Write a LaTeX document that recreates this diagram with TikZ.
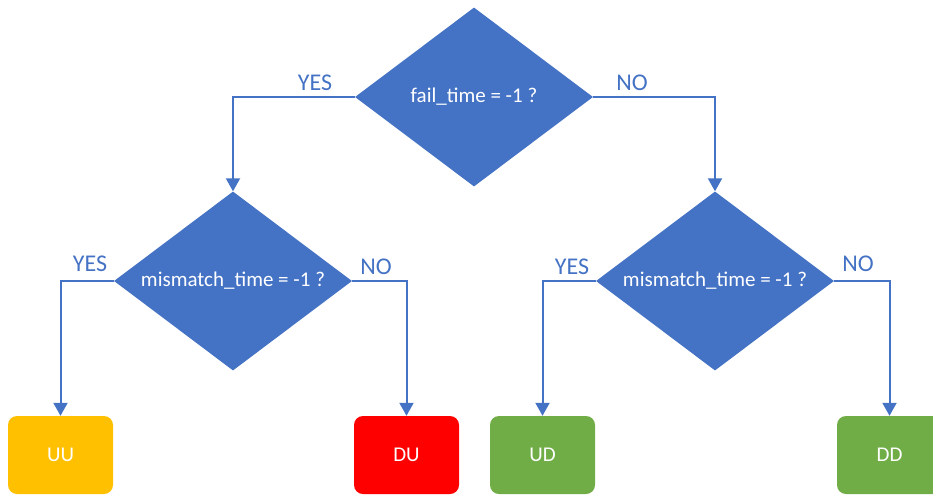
\documentclass[tikz,border=0pt]{standalone}
\usepackage{fontspec}
\setmainfont{Carlito}
\usetikzlibrary{shapes.geometric,arrows.meta}
\definecolor{flowblue}{HTML}{4472C4}
\definecolor{amber}{HTML}{FFC000}
\definecolor{alertred}{HTML}{FF0000}
\definecolor{okgreen}{HTML}{70AD47}
\tikzset{
  decision/.style={diamond, fill=flowblue, text=white, inner sep=0pt, aspect=1.33,
    minimum width=238pt, minimum height=179pt, font=\fontsize{21}{24}\selectfont},
  outcome/.style={rounded corners=9pt, text=white, minimum width=105pt, minimum height=78pt,
    inner sep=0pt, font=\fontsize{21}{24}\selectfont},
  flow/.style={draw=flowblue, line width=2pt, -{Triangle[length=13pt,width=14pt]}},
  branch/.style={text=flowblue, inner sep=0pt, font=\fontsize{24}{27}\selectfont}
}
\begin{document}
\begin{tikzpicture}[x=1pt,y=-1pt]
\useasboundingbox (0,0) rectangle (933,495);
% decisions
\node[decision] (top) at (474,97) {fail\_time = -1 ?};
\node[decision] (left) at (233,281) {mismatch\_time = -1 ?};
\node[decision] (right) at (715,281) {mismatch\_time = -1 ?};
% outcomes
\node[outcome, fill=amber] (uu) at (60.5,455) {UU};
\node[outcome, fill=alertred] (du) at (406.5,455) {DU};
\node[outcome, fill=okgreen] (ud) at (542.5,455) {UD};
\node[outcome, fill=okgreen] (dd) at (889.5,455) {DD};
% connectors
\draw[flow] (top.west) -| (left.north);
\draw[flow] (top.east) -| (right.north);
\draw[flow] (left.west) -| (uu.north);
\draw[flow] (left.east) -| (du.north);
\draw[flow] (right.west) -| (ud.north);
\draw[flow] (right.east) -| (dd.north);
% branch labels
\node[branch] (ly0) at (315,83) {YES};
\node[branch] (ln0) at (632,83) {NO};
\node[branch] (ly1) at (90,264) {YES};
\node[branch] (ln1) at (376,267) {NO};
\node[branch] (ly2) at (572,267) {YES};
\node[branch] (ln2) at (858,264) {NO};
\end{tikzpicture}
\end{document}
